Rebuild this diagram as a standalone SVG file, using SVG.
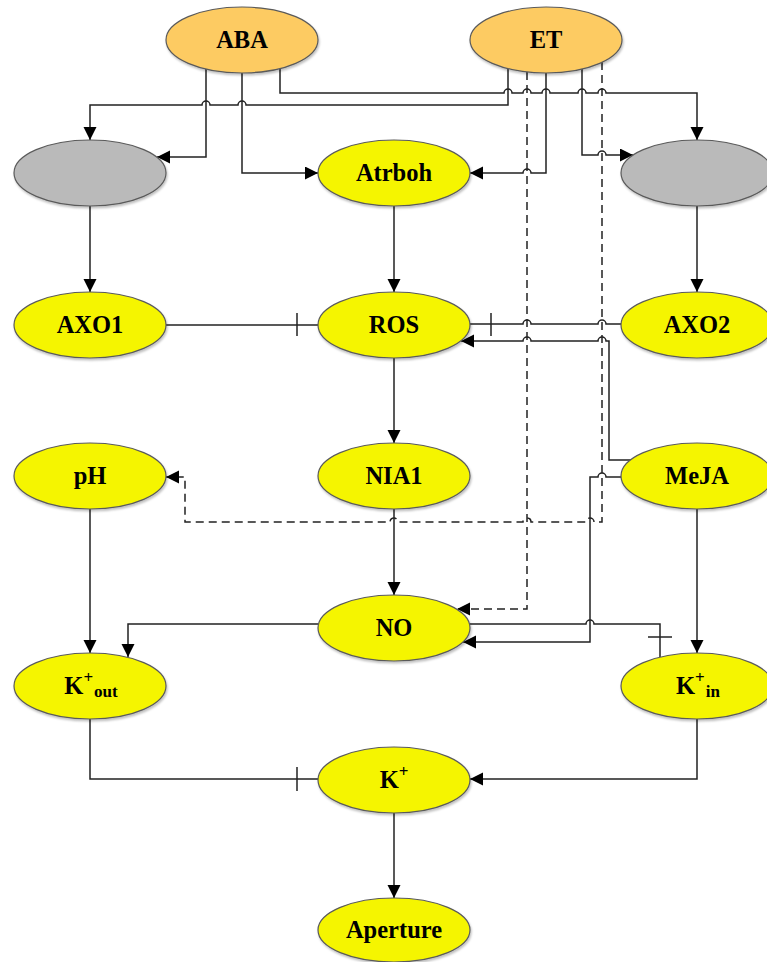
<svg xmlns="http://www.w3.org/2000/svg" width="767" height="962" viewBox="0 0 767 962">
<style>
.n ellipse{stroke:#5a5a5a;stroke-width:1.2;filter:url(#sh)}
.y ellipse{fill:#F5F500}
.o ellipse{fill:#FDCB62}
.g ellipse{fill:#BABABA}
text{font-family:"Liberation Serif","Times New Roman",serif;font-weight:bold;font-size:24.5px;fill:#000;text-anchor:middle}
.s{font-size:17px}
.c path{fill:none;stroke:#222;stroke-width:1.5}
.c .d{stroke-dasharray:8,5}
.c .a{marker-end:url(#arr)}
.c line{stroke:#222;stroke-width:1.5}
</style>
<defs>
<filter id="sh" x="-10%" y="-10%" width="125%" height="135%">
<feDropShadow dx="1" dy="2" stdDeviation="1.2" flood-color="#000" flood-opacity="0.25"/>
</filter>
<marker id="arr" markerUnits="userSpaceOnUse" markerWidth="14" markerHeight="14" refX="13" refY="6.5" orient="auto">
<path d="M0,0 L13,6.5 L0,13 Z" fill="#000"/>
</marker>
</defs>
<g id="connectors" class="c">
<path class="a" d="M508,69 V105 H246 a4,4 0 0 0 -8,0 H210 a4,4 0 0 0 -8,0 H90 V140"/>
<path class="a" d="M206,69 V157 H157"/>
<path class="a" d="M242,73 V173 H318"/>
<path class="a" d="M280,69 V93 H504 a4,4 0 0 1 8,0 H523 a4,4 0 0 1 8,0 H542 a4,4 0 0 1 8,0 H578 a4,4 0 0 1 8,0 H598 a4,4 0 0 1 8,0 H697 V140"/>
<path class="a" d="M546,73 V173 H531 a4,4 0 0 0 -8,0 H470"/>
<path class="a" d="M582,69 V155 H598 a4,4 0 0 1 8,0 H633"/>
<path class="a d" d="M527,72 V609 H457"/>
<path class="a d" d="M602,62 V522 H594 a4,4 0 0 0 -8,0 H531 a4,4 0 0 0 -8,0 H398 a4,4 0 0 0 -8,0 H185 V477 H166"/>
<path d="M90,206 V292" class="a"/>
<path d="M394,206 V292" class="a"/>
<path d="M697,206 V292" class="a"/>
<path d="M166,325 H318"/>
<line x1="297" y1="313" x2="297" y2="336"/>
<path d="M621,324 H606 a4,4 0 0 0 -8,0 H531 a4,4 0 0 0 -8,0 H470"/>
<line x1="491" y1="313" x2="491" y2="336"/>
<path class="a" d="M631,460 H609 V341 H606 a4,4 0 0 0 -8,0 H531 a4,4 0 0 0 -8,0 H461"/>
<path class="a" d="M394,358 V443"/>
<path class="a" d="M621,477 H606 a4,4 0 0 0 -8,0 H590 V642 H463"/>
<path class="a" d="M394,509 V595"/>
<path d="M470,624 H586 a4,4 0 0 1 8,0 H660 V657"/>
<line x1="648" y1="637" x2="672" y2="637"/>
<path class="a" d="M318,624 H128 V657"/>
<path class="a" d="M90,509 V653"/>
<path class="a" d="M697,509 V653"/>
<path d="M90,719 V779 H318"/>
<line x1="297" y1="767" x2="297" y2="791"/>
<path class="a" d="M697,719 V779 H470"/>
<path class="a" d="M394,813 V898"/>
</g>
<g id="ABA" class="n o"><ellipse cx="242" cy="40" rx="76" ry="33"/><text x="242" y="48">ABA</text></g>
<g id="ET" class="n o"><ellipse cx="546" cy="40" rx="76" ry="33"/><text x="546" y="48">ET</text></g>
<g id="grey1" class="n g"><ellipse cx="90" cy="173" rx="76" ry="33"/></g>
<g id="Atrboh" class="n y"><ellipse cx="394" cy="173" rx="76" ry="33"/><text x="394" y="181">Atrboh</text></g>
<g id="grey2" class="n g"><ellipse cx="697" cy="173" rx="76" ry="33"/></g>
<g id="AXO1" class="n y"><ellipse cx="90" cy="325" rx="76" ry="33"/><text x="90" y="333">AXO1</text></g>
<g id="ROS" class="n y"><ellipse cx="394" cy="325" rx="76" ry="33"/><text x="394" y="333">ROS</text></g>
<g id="AXO2" class="n y"><ellipse cx="697" cy="325" rx="76" ry="33"/><text x="697" y="333">AXO2</text></g>
<g id="pH" class="n y"><ellipse cx="90" cy="476" rx="76" ry="33"/><text x="90" y="484">pH</text></g>
<g id="NIA1" class="n y"><ellipse cx="394" cy="476" rx="76" ry="33"/><text x="394" y="484">NIA1</text></g>
<g id="MeJA" class="n y"><ellipse cx="697" cy="476" rx="76" ry="33"/><text x="697" y="484">MeJA</text></g>
<g id="NO" class="n y"><ellipse cx="394" cy="628" rx="76" ry="33"/><text x="394" y="636">NO</text></g>
<g id="Kout" class="n y"><ellipse cx="90" cy="686" rx="76" ry="33"/><text x="91" y="694">K<tspan class="s" dy="-11">+</tspan><tspan class="s" dx="1" dy="14">out</tspan></text></g>
<g id="Kin" class="n y"><ellipse cx="697" cy="686" rx="76" ry="33"/><text x="698" y="694">K<tspan class="s" dy="-11">+</tspan><tspan class="s" dx="1" dy="14">in</tspan></text></g>
<g id="K" class="n y"><ellipse cx="394" cy="780" rx="76" ry="33"/><text x="394" y="788">K<tspan class="s" dy="-11">+</tspan></text></g>
<g id="Aperture" class="n y"><ellipse cx="394" cy="930" rx="76" ry="32"/><text x="394" y="938">Aperture</text></g>
</svg>
